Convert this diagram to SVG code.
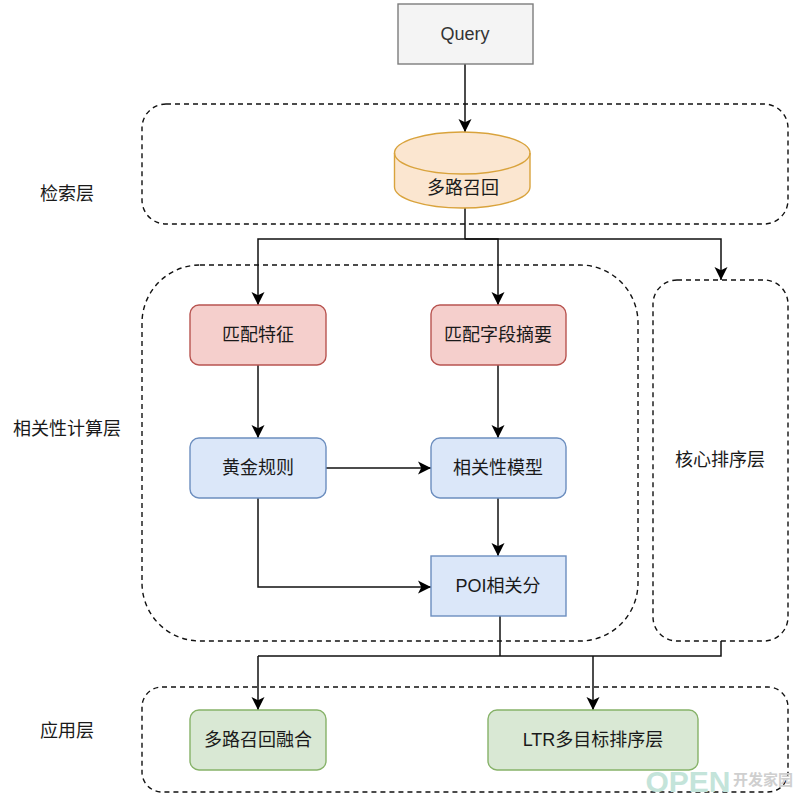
<svg xmlns="http://www.w3.org/2000/svg" width="800" height="800" viewBox="0 0 800 800">
  <style>
    text { font-family: "Liberation Sans", "Noto Sans CJK SC", sans-serif; font-size: 18px; fill: #1a1a1a; text-anchor: middle; dominant-baseline: central; }
    .zone { fill: none; stroke: #111; stroke-width: 1.4; stroke-dasharray: 5 4; }
    .wire { fill: none; stroke: #111; stroke-width: 1.5; }
    .red { fill: #f5cfcc; stroke: #b85450; stroke-width: 1.4; }
    .blue { fill: #dbe7f9; stroke: #6c8ebf; stroke-width: 1.4; }
    .green { fill: #d9e8d4; stroke: #86b268; stroke-width: 1.4; }
    .can { fill: #fbe6d0; stroke: #d9a33c; stroke-width: 1.4; }
  </style>
  <defs>
    <marker id="head" markerUnits="userSpaceOnUse" markerWidth="16" markerHeight="16" refX="13" refY="8" orient="auto">
      <path d="M0 1.500L13 8L0 14.500L3.300 8Z" fill="#000"/>
    </marker>
  </defs>

  <rect width="800" height="800" fill="#fff"/>

  <g id="zones">
    <rect id="zone-retrieval" class="zone" x="142" y="104" width="646" height="120" rx="24"/>
    <rect id="zone-relevance" class="zone" x="142" y="265" width="496" height="376" rx="58"/>
    <rect id="zone-core" class="zone" x="653" y="280" width="135" height="361" rx="24"/>
    <rect id="zone-app" class="zone" x="142" y="687" width="646" height="105" rx="20"/>
  </g>

  <g id="connectors">
    <path class="wire" marker-end="url(#head)" d="M465 64V132"/>
    <path class="wire" d="M465 208V239"/>
    <path class="wire" marker-end="url(#head)" d="M465 239H258V305"/>
    <path class="wire" marker-end="url(#head)" d="M465 239H498V305"/>
    <path class="wire" marker-end="url(#head)" d="M465 239H721V280"/>
    <path class="wire" marker-end="url(#head)" d="M258 365V438"/>
    <path class="wire" marker-end="url(#head)" d="M498 365V438"/>
    <path class="wire" marker-end="url(#head)" d="M326 468H431"/>
    <path class="wire" marker-end="url(#head)" d="M498 498V556"/>
    <path class="wire" marker-end="url(#head)" d="M258 498V587H431"/>
    <path class="wire" d="M500 616V656"/>
    <path class="wire" d="M721 641V656H258"/>
    <path class="wire" marker-end="url(#head)" d="M258 656V710"/>
    <path class="wire" marker-end="url(#head)" d="M593 656V710"/>
  </g>

  <g id="query">
    <rect x="398" y="4" width="135" height="60" fill="#f4f4f4" stroke="#7d7d7d" stroke-width="1.4"/>
    <text x="465" y="34" style="fill:#333">Query</text>
  </g>
  <g id="recall">
    <path class="can" d="M394.500 153A67.750 21 0 0 1 530 153V187A67.750 21 0 0 1 394.500 187Z"/>
    <path class="can" style="fill:none" d="M394.500 153A67.750 21 0 0 0 530 153"/>
    <text x="463" y="188">多路召回</text>
  </g>
  <g id="match-features">
    <rect class="red" x="190" y="305" width="136" height="60" rx="9"/>
    <text x="258" y="335">匹配特征</text>
  </g>
  <g id="field-summary">
    <rect class="red" x="431" y="305" width="135" height="60" rx="9"/>
    <text x="498" y="335">匹配字段摘要</text>
  </g>
  <g id="golden-rules">
    <rect class="blue" x="190" y="438" width="136" height="60" rx="9"/>
    <text x="258" y="468">黄金规则</text>
  </g>
  <g id="relevance-model">
    <rect class="blue" x="431" y="438" width="135" height="60" rx="9"/>
    <text x="498" y="468">相关性模型</text>
  </g>
  <g id="poi-score">
    <rect class="blue" x="431" y="556" width="135" height="60"/>
    <text x="498" y="586">POI相关分</text>
  </g>
  <g id="recall-merge">
    <rect class="green" x="190" y="710" width="136" height="60" rx="9"/>
    <text x="258" y="740">多路召回融合</text>
  </g>
  <g id="ltr">
    <rect class="green" x="488" y="710" width="210" height="60" rx="9"/>
    <text x="593" y="740">LTR多目标排序层</text>
  </g>

  <g id="labels">
    <text x="67" y="194">检索层</text>
    <text x="67" y="429">相关性计算层</text>
    <text x="720" y="460">核心排序层</text>
    <text x="67" y="731">应用层</text>
  </g>

  <g id="badge">
    <text x="688" y="781" style="font-size:30px;font-weight:bold;fill:#c4e4da">OPEN</text>
    <text x="763" y="779" style="font-size:15px;font-weight:bold;fill:#cfcfcf">开发家园</text>
  </g>
</svg>
